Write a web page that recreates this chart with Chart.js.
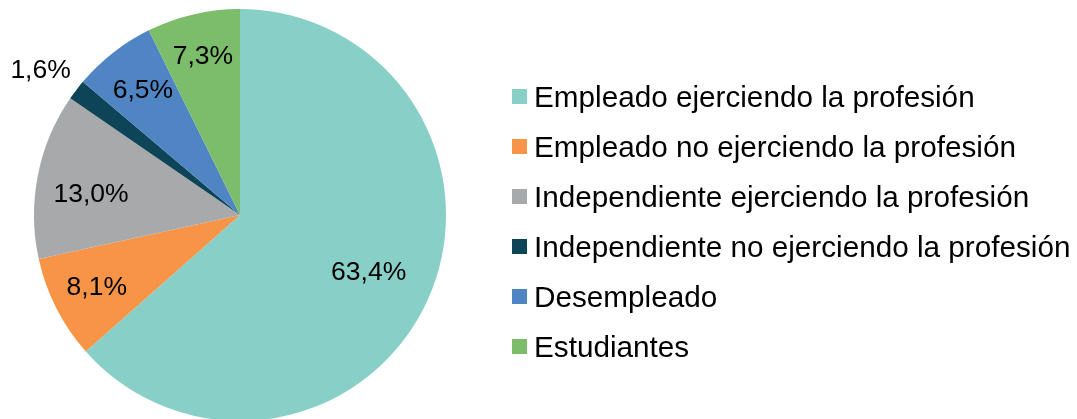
<!DOCTYPE html>
<html>
<head>
<meta charset="utf-8">
<script src="https://cdn.jsdelivr.net/npm/chart.js@4.4.1/dist/chart.umd.min.js"></script>
<style>
  html, body { margin: 0; padding: 0; background: #ffffff; overflow: hidden; }
  #wrap { position: relative; width: 1077px; height: 423px; }
</style>
</head>
<body>
<div id="wrap"><canvas id="c"></canvas></div>
<script>
// ---- data ----
const categories = [
  "Empleado ejerciendo la profesión",
  "Empleado no ejerciendo la profesión",
  "Independiente ejerciendo la profesión",
  "Independiente no ejerciendo la profesión",
  "Desempleado",
  "Estudiantes"
];
const values = [63.4, 8.1, 13.0, 1.6, 6.5, 7.3];
const valueLabels = ["63,4%", "8,1%", "13,0%", "1,6%", "6,5%", "7,3%"];

// ---- style ----
const colors = ["#87cfc7", "#f79447", "#a7a9aa", "#0d4457", "#5085c4", "#7bbd6a"];
const labelRadiusFactor = [0.685, 0.78, 0.73, 1.195, 0.765, 0.79];
const labelAngleShift = [0, 0, -0.055, -0.026, 0, 0];
const FONT = '"Liberation Sans", Arial, Helvetica, sans-serif';

const sliceLabels = {
  id: 'sliceLabels',
  afterDatasetsDraw(chart) {
    const ctx = chart.ctx;
    const meta = chart.getDatasetMeta(0);
    ctx.save();
    ctx.fillStyle = '#000000';
    ctx.font = '26.5px ' + FONT;
    ctx.textAlign = 'center';
    ctx.textBaseline = 'middle';
    meta.data.forEach((arc, i) => {
      const p = arc.getProps(['x', 'y', 'startAngle', 'endAngle', 'outerRadius'], true);
      const mid = (p.startAngle + p.endAngle) / 2 + labelAngleShift[i];
      const r = p.outerRadius * labelRadiusFactor[i];
      ctx.fillText(valueLabels[i], p.x + Math.cos(mid) * r, p.y + Math.sin(mid) * r);
    });
    ctx.restore();
  }
};

const sideLegend = {
  id: 'sideLegend',
  afterDraw(chart) {
    const ctx = chart.ctx;
    const x0 = 512, y0 = 96.5, step = 50, box = 15;
    ctx.save();
    ctx.font = '29.7px ' + FONT;
    ctx.textAlign = 'left';
    ctx.textBaseline = 'alphabetic';
    categories.forEach((name, i) => {
      const cy = y0 + i * step;
      ctx.fillStyle = colors[i];
      ctx.fillRect(x0, cy - box / 2, box, box);
      ctx.fillStyle = '#000000';
      ctx.fillText(name, x0 + 22, cy + 10.5);
    });
    ctx.restore();
  }
};

new Chart(document.getElementById('c'), {
  type: 'pie',
  data: {
    labels: categories,
    datasets: [{
      data: values,
      backgroundColor: colors,
      borderWidth: 0,
      hoverOffset: 0,
      offset: 0
    }]
  },
  options: {
    responsive: true,
    maintainAspectRatio: false,
    animation: false,
    events: [],
    layout: { padding: { left: 34, top: 9, right: 631, bottom: 2 } },
    plugins: {
      legend: { display: false },
      tooltip: { enabled: false }
    }
  },
  plugins: [sliceLabels, sideLegend]
});
</script>
</body>
</html>
